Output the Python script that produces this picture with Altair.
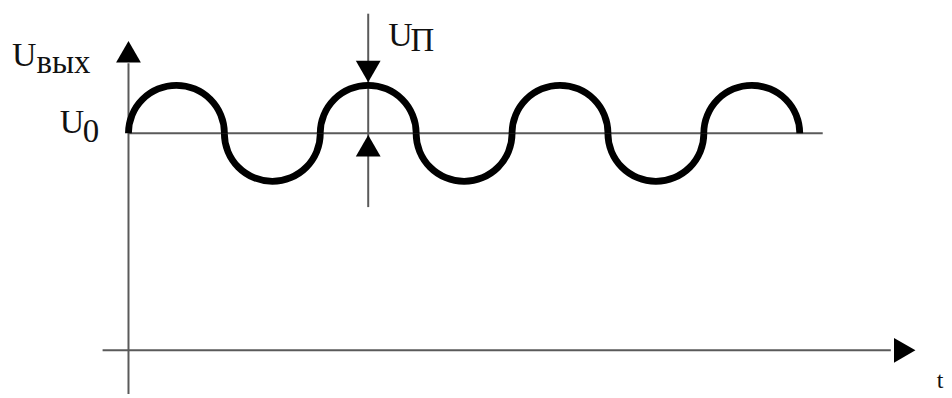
import altair as alt
import pandas as pd
import math

# ---- data (diagram units: t in half-periods, U in ripple amplitudes) ----
U0 = 4.5
half_centers = [0.5, 1.5, 2.5, 3.5, 4.5, 5.5, 6.5]
half_dirs = ["up", "down", "up", "down", "up", "down", "up"]

seg_x1 = [0.0, -0.27, 0.0, 2.5]
seg_x2 = [0.0, 7.95, 7.24, 2.5]
seg_y1 = [-1.0, 0.0, U0, 2.97]
seg_y2 = [5.95, 0.0, U0, 6.98]
seg_kind = ["axis", "axis", "level", "measure"]

arrow_t = [0.0, 8.095, 2.5, 2.5]
arrow_u = [6.19, 0.0, 5.78, 4.24]
arrow_shape = ["triangle-up", "triangle-right", "triangle-down", "triangle-up"]

big_text = ["U", "U", "U"]
big_t = [-1.215, -0.717, 2.71]
big_u = [5.90, 4.50, 6.32]
sub_text = ["вых", "0", "П"]
sub_t = [-0.96, -0.478, 2.94]
sub_u = [5.74, 4.31, 6.21]
t_label = "t"

# ---- tables ----
angle = {"up": (1.5 * math.pi, 2.5 * math.pi), "down": (0.5 * math.pi, 1.5 * math.pi)}
arcs = pd.DataFrame({
    "t": half_centers,
    "u": [U0] * len(half_centers),
    "a1": [angle[d][0] for d in half_dirs],
    "a2": [angle[d][1] for d in half_dirs],
})
segs = pd.DataFrame({"x1": seg_x1, "x2": seg_x2, "y1": seg_y1, "y2": seg_y2, "kind": seg_kind})
arrows = pd.DataFrame({"t": arrow_t, "u": arrow_u, "shape": arrow_shape})
bigs = pd.DataFrame({"t": big_t, "u": big_u, "txt": big_text})
subs = pd.DataFrame({"t": sub_t, "u": sub_u, "txt": sub_text})
tlab = pd.DataFrame({"t": [8.43], "u": [-0.88], "txt": [t_label]})

xs = alt.Scale(domain=[-1.2565, 8.5047], nice=False, zero=False)
ys = alt.Scale(domain=[-0.888, 7.081], nice=False, zero=False)

lines = alt.Chart(segs).mark_rule(color="#5a5a5a", strokeWidth=2).encode(
    x=alt.X("x1:Q", scale=xs, axis=None),
    x2="x2:Q",
    y=alt.Y("y1:Q", scale=ys, axis=None),
    y2="y2:Q",
)

wave = alt.Chart(arcs).mark_arc(innerRadius=44.8, outerRadius=51.6, color="black").encode(
    x=alt.X("t:Q", scale=xs, axis=None),
    y=alt.Y("u:Q", scale=ys, axis=None),
    theta=alt.Theta("a1:Q", scale=None, stack=False),
    theta2="a2:Q",
)

heads = alt.Chart(arrows).mark_point(filled=True, size=620, color="black", opacity=1, strokeWidth=0).encode(
    x=alt.X("t:Q", scale=xs, axis=None),
    y=alt.Y("u:Q", scale=ys, axis=None),
    shape=alt.Shape("shape:N", scale=None),
)

font = "Liberation Serif"
big = alt.Chart(bigs).mark_text(font=font, fontSize=34, align="left", baseline="alphabetic", color="#111111").encode(
    x=alt.X("t:Q", scale=xs, axis=None),
    y=alt.Y("u:Q", scale=ys, axis=None),
    text="txt:N",
)
sub = alt.Chart(subs).mark_text(font=font, fontSize=33, align="left", baseline="alphabetic", color="#111111").encode(
    x=alt.X("t:Q", scale=xs, axis=None),
    y=alt.Y("u:Q", scale=ys, axis=None),
    text="txt:N",
)
tl = alt.Chart(tlab).mark_text(font=font, fontSize=24, align="left", baseline="bottom", color="#111111").encode(
    x=alt.X("t:Q", scale=xs, axis=None),
    y=alt.Y("u:Q", scale=ys, axis=None),
    text="txt:N",
)

chart = alt.layer(lines, wave, heads, big, sub, tl).properties(
    width=940, height=386, autosize=alt.AutoSizeParams(type="none"), padding=0
).configure_view(strokeWidth=0)

chart.save("out.html", embed_options={"renderer": "svg", "actions": False})
